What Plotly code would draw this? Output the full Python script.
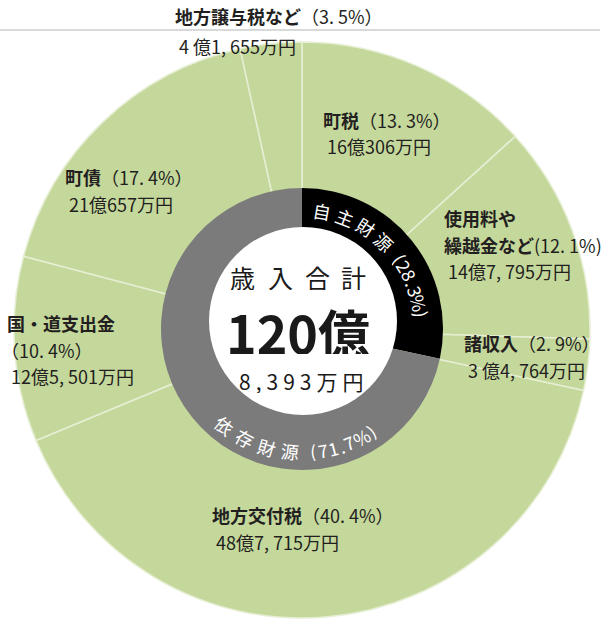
import math
import plotly.graph_objects as go

# ---------------- data ----------------
categories = ["町税", "使用料や繰越金など", "諸収入", "地方交付税", "国・道支出金", "町債", "地方譲与税など"]
amounts_man = [160306, 147795, 34764, 487715, 125501, 210657, 41655]   # 単位: 万円
percent_labels = [13.3, 12.1, 2.9, 40.4, 10.4, 17.4, 3.5]
group_names = ["自主財源", "依存財源"]
group_index = [0, 0, 0, 1, 1, 1, 1]
group_percent = [28.3, 71.7]
center_title = "歳入合計"

total_man = sum(amounts_man)
group_values = [sum(v for v, g in zip(amounts_man, group_index) if g == k) for k in range(2)]


def fmt_yen(v):
    oku, man = divmod(v, 10000)
    oku_s = f"{oku} " if oku < 10 else str(oku)
    return f"{oku_s}億{man:,}万円".replace(",", ", ")


def fmt_pct(p, wide=True):
    s = f"{p}".replace(".", ". ") + "%"
    return f"（{s}）" if wide else f"({s})"


# ---------------- layout helpers ----------------
W, H = 604, 624
FONT = "Noto Sans CJK JP"
TXT = "#231f20"
GREEN = "#c5d89c"


def px(x):
    return x / W


def py(y):
    return 1 - y / H


def dom(cx, cy, r):
    return dict(x=[px(cx - r), px(cx + r)], y=[py(cy + r), py(cy - r)])


OUT_C, OUT_R = (302, 330), 288
RING_C, RING_R = (302, 329), 141
WHITE_C, WHITE_R = (303, 321), 94

fig = go.Figure()

fig.add_trace(go.Pie(
    labels=categories, values=amounts_man, sort=False, direction="clockwise", rotation=0,
    marker=dict(colors=[GREEN] * len(categories), line=dict(color="#e6eed3", width=1.5)),
    textinfo="none", hoverinfo="label+percent", domain=dom(*OUT_C, OUT_R), showlegend=False,
))
fig.add_trace(go.Pie(
    labels=group_names, values=group_values, sort=False, direction="clockwise", rotation=0,
    marker=dict(colors=["#000000", "#7b7b7b"], line=dict(width=0)),
    textinfo="none", hoverinfo="label+percent", domain=dom(*RING_C, RING_R), showlegend=False,
))

shapes = [
    dict(type="circle", xref="paper", yref="paper",
         x0=px(WHITE_C[0] - WHITE_R), x1=px(WHITE_C[0] + WHITE_R),
         y0=py(WHITE_C[1] + WHITE_R), y1=py(WHITE_C[1] - WHITE_R),
         fillcolor="white", line=dict(width=0), layer="above"),
    dict(type="line", xref="paper", yref="paper", x0=0, x1=px(600), y0=py(30), y1=py(30),
         line=dict(color="#b4b4b4", width=1.2)),
]

ann = []


def add_text(text, x, y, size=18, color=TXT, anchor="left", angle=0, family=FONT, height=None):
    d = dict(text=text, x=px(x), y=py(y), xref="paper", yref="paper", showarrow=False,
             xanchor=anchor, yanchor="middle", textangle=angle, borderpad=0,
             font=dict(family=family, size=size, color=color))
    if height is not None:
        d["height"] = height
    ann.append(d)


# outer labels: (left x, first line y)
label_pos = {
    "町税": (322, 120),
    "使用料や繰越金など": (443, 218),
    "諸収入": (463, 343),
    "地方交付税": (211, 515),
    "国・道支出金": (6, 323),
    "町債": (64, 177),
    "地方譲与税など": (174, 16),
}
LINE_GAP = 26.5
for name, p, v in zip(categories, percent_labels, amounts_man):
    if name == "使用料や繰越金など":
        lines = ["<b>使用料や</b>", f"<b>繰越金など</b>{fmt_pct(p, wide=False)}"]
    elif name == "国・道支出金":
        lines = [f"<b>{name}</b>", fmt_pct(p)]
    else:
        lines = [f"<b>{name}</b>{fmt_pct(p)}"]
    lines.append(fmt_yen(v))
    x0, y0 = label_pos[name]
    gaps = [0]
    for i in range(1, len(lines)):
        gaps.append(gaps[-1] + (LINE_GAP if i < len(lines) - 1 or name != "地方譲与税など" else 30))
    for i, (ln, g) in enumerate(zip(lines, gaps)):
        dx = 4 if i == len(lines) - 1 else 0
        if name == "国・道支出金" and i == 1:
            dx = -6
        add_text(ln, x0 + dx, y0 + g, height=24)


# ring text along arcs
def char_w(c):
    if ord(c) > 0x2E80:
        return 11.2
    return {" ": 3.0, ".": 3.0, "%": 7.0, "(": 4.0, ")": 4.0}.get(c, 5.0)


def arc_text(text, start, sign, r, rot_offset, size):
    a = start
    prev = None
    for c in text:
        if prev is not None:
            a += sign * (char_w(prev) / 2 + char_w(c) / 2)
        prev = c
        if c == " ":
            continue
        t = math.radians(a)
        x = RING_C[0] + r * math.sin(t)
        y = RING_C[1] - r * math.cos(t)
        add_text(c, x, y, size=size, color="white", anchor="center", angle=a + rot_offset, height=20)


arc_text(f"{group_names[0]} ({group_percent[0]}%)", 9.8, +1, 120, 0, 18)
arc_text(f"{group_names[1]} ({group_percent[1]}%)", 219, -1, 123, -180, 18)

# center text (characters spaced individually)
title_x = [242, 280, 317, 353]
for ch, x in zip(center_title, title_x):
    add_text(ch, x, 277, size=25, color="#1a1a1a", anchor="center", height=26)
add_text(f"<b>{total_man // 10000}億</b>", 298, 331, size=52, color="#1a1a1a", anchor="center",
         height=46)
add_text(f"<span style='letter-spacing:5px'>{total_man % 10000:,}万円</span>", 303, 381, size=21,
         color="#1a1a1a", anchor="center", height=24)

fig.update_layout(
    width=W, height=H, margin=dict(l=0, r=0, t=0, b=0),
    paper_bgcolor="white", plot_bgcolor="white",
    shapes=shapes, annotations=ann, showlegend=False,
)

fig.write_html("out.html", config={"displayModeBar": False},
               post_script="document.body.style.margin='0';document.body.style.overflow='hidden';")
